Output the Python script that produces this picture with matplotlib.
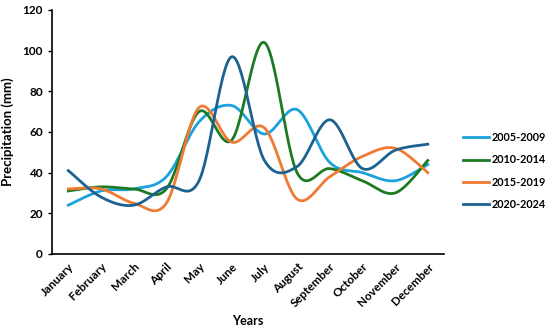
import numpy as np
import matplotlib
matplotlib.use("Agg")
import matplotlib.pyplot as plt

months = ["January", "February", "March", "April", "May", "June", "July",
          "August", "September", "October", "November", "December"]
s2005_2009 = [24, 31, 32, 38, 65, 73, 59, 71, 45, 40, 36, 44]
s2010_2014 = [31, 33, 32, 32, 70, 56, 104, 40, 42, 36, 30, 46]
s2015_2019 = [32, 32, 25, 25, 72, 55, 62, 27, 38, 48, 52, 40]
s2020_2024 = [41, 28, 24, 33, 36, 97, 46, 43, 66, 42, 51, 54]
labels = ["2005-2009", "2010-2014", "2015-2019", "2020-2024"]
colors = ["#1BA1DB", "#1E7A22", "#EF7A33", "#1C6190"]

def smooth(x, y, n=30):
    x = np.asarray(x, float); y = np.asarray(y, float)
    px = np.concatenate([[x[0]], x, [x[-1]]])
    py = np.concatenate([[y[0]], y, [y[-1]]])
    xs, ys = [], []
    t = np.linspace(0, 1, n)
    for i in range(1, len(px) - 2):
        p0 = np.array([px[i], py[i]]); p3 = np.array([px[i+1], py[i+1]])
        p1 = p0 + (np.array([px[i+1], py[i+1]]) - np.array([px[i-1], py[i-1]])) / 6
        p2 = p3 - (np.array([px[i+2], py[i+2]]) - np.array([px[i], py[i]])) / 6
        b = ((1-t)**3)[:, None]*p0 + (3*(1-t)**2*t)[:, None]*p1 + (3*(1-t)*t**2)[:, None]*p2 + (t**3)[:, None]*p3
        xs.append(b[:, 0]); ys.append(b[:, 1])
    return np.concatenate(xs), np.concatenate(ys)

plt.rcParams['font.family'] = ['Lato', 'DejaVu Sans']
fig = plt.figure(figsize=(5.5, 3.32), dpi=100)
ax = fig.add_axes([0.0945, 0.235, 0.713, 0.735])
x = np.arange(len(months))
for data, lab, c in zip([s2005_2009, s2010_2014, s2015_2019, s2020_2024], labels, colors):
    sx, sy = smooth(x, data)
    ax.plot(sx, sy, color=c, lw=2, label=lab)

ax.set_xlim(-0.5, 11.5)
ax.set_ylim(0, 120)
ax.set_yticks(range(0, 121, 20))
ax.set_xticks(x)
ax.set_xticklabels(months, rotation=45, ha='right', rotation_mode='anchor', fontsize=8.5, fontweight='bold')
for lbl in ax.get_yticklabels():
    lbl.set_fontsize(8.5); lbl.set_fontweight('bold')
ax.tick_params(axis='x', length=0, pad=5)
ax.tick_params(axis='y', length=3, width=1)
for s in ['top', 'right']:
    ax.spines[s].set_visible(False)
for s in ['left', 'bottom']:
    ax.spines[s].set_linewidth(1.2)
ax.set_ylabel("Precipitation (mm)", fontsize=9.5, fontweight='bold', labelpad=6)
ax.set_xlabel("Years", fontsize=9, fontweight='bold', labelpad=4)
leg = fig.legend(loc='center left', bbox_to_anchor=(0.842, 0.485), frameon=False,
                 prop={'size': 7.8, 'weight': 'bold'}, handlelength=2.4, handletextpad=0.25,
                 labelspacing=1.05, borderaxespad=0, borderpad=0)
fig.savefig("out.png", dpi=100)
